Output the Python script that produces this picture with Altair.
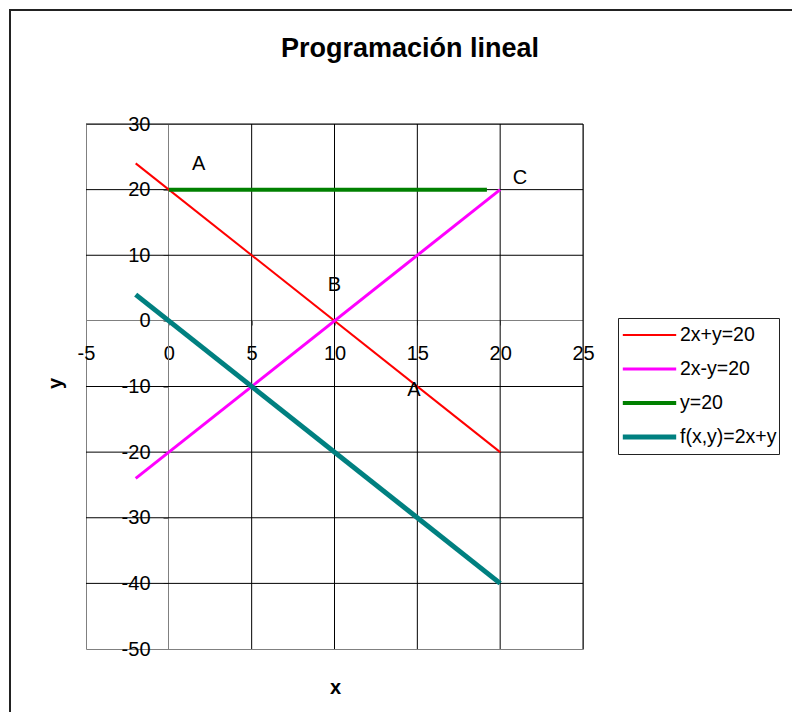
import altair as alt
import pandas as pd

# ---- data ----
series_names = ["2x+y=20", "2x-y=20", "y=20", "f(x,y)=2x+y"]
series_colors = ["#FF0000", "#FF00FF", "#008000", "#008080"]
series_widths = [2, 5, 5, 5]

red_x = [-2, 20]
red_y = [24, -20]
mag_x = [-2, 20]
mag_y = [-24, 20]
green_x = [0, 19.2]
green_y = [20, 20]
teal_x = [-2, 20]
teal_y = [4, -40]

label_text = ["A", "C", "B", "A"]
label_x = [1.8, 21.2, 10.0, 14.8]
label_y = [23.9, 21.8, 5.5, -10.5]

chart_title = ["Programación lineal"]

x_ticks = [-5, 0, 5, 10, 15, 20, 25]
y_ticks = [30, 20, 10, 0, -10, -20, -30, -40, -50]
x_grid = [5, 10, 15, 20, 25]
y_grid = [30, 20, 10, -10, -20, -30, -40]

rows = []
for name, xs_, ys_ in zip(series_names, [red_x, mag_x, green_x, teal_x],
                          [red_y, mag_y, green_y, teal_y]):
    for xv, yv in zip(xs_, ys_):
        rows.append({"series": name, "x": xv, "y": yv})
lines_df = pd.DataFrame(rows)
labels_df = pd.DataFrame({"t": label_text, "x": label_x, "y": label_y})
xgrid_df = pd.DataFrame({"x": x_grid})
ygrid_df = pd.DataFrame({"y": y_grid})
frame_df = pd.DataFrame({"k": [0]})
title_df = pd.DataFrame({"t": chart_title})

FONT = "Liberation Sans"
FS = 20
xs = alt.Scale(domain=[-5, 25], nice=False, zero=False)
ys = alt.Scale(domain=[-50, 30], nice=False, zero=False)

x_axis = alt.Axis(values=x_ticks, labelExpr="'' + datum.value", grid=False,
                  offset=-329, domainColor="#808080", tickColor="#808080",
                  tickSize=5, labelPadding=18, labelFontSize=FS, labelFont=FONT,
                  labelColor="black", labelFlush=False, labelOverlap=False,
                  title="x", titleFont=FONT, titleFontSize=FS, titleFontWeight="bold",
                  titleColor="black", titleX=249, titleY=367, titleBaseline="middle",
                  titleAlign="center")
y_axis = alt.Axis(values=y_ticks, labelExpr="'' + datum.value", grid=False,
                  offset=-82, domainColor="#808080", tickColor="#808080",
                  tickSize=5, labelPadding=13, labelFontSize=FS, labelFont=FONT,
                  labelColor="black", labelFlush=False, labelOverlap=False,
                  title="y", titleFont=FONT, titleFontSize=FS, titleFontWeight="bold",
                  titleColor="black", titleX=-113, titleY=259, titleBaseline="middle",
                  titleAlign="center", titleAngle=270)

frame = alt.Chart(frame_df).mark_rect(fillOpacity=0, stroke="#222222", strokeWidth=2).encode(
    x=alt.value(-76), x2=alt.value(730), y=alt.value(-114), y2=alt.value(610)
)

title = alt.Chart(title_df).mark_text(font=FONT, fontSize=27, fontWeight="bold",
                                      color="black", align="center",
                                      baseline="alphabetic").encode(
    text="t:N", x=alt.value(324), y=alt.value(-67)
)

vgrid = alt.Chart(xgrid_df).mark_rule(color="black", strokeWidth=1).encode(
    x=alt.X("x:Q", scale=xs, axis=x_axis)
)
hgrid = alt.Chart(ygrid_df).mark_rule(color="black", strokeWidth=1).encode(
    y=alt.Y("y:Q", scale=ys, axis=y_axis)
)

legend = alt.Legend(title=None, orient="none", legendX=532, legendY=194,
                    symbolType="stroke", symbolSize=2850, labelFontSize=19.5,
                    labelFont=FONT, labelColor="black", strokeColor="#222222",
                    fillColor="white", padding=2, rowPadding=4, labelOffset=1,
                    clipHeight=30)

lines = alt.Chart(lines_df).mark_line().encode(
    x=alt.X("x:Q", scale=xs, axis=x_axis),
    y=alt.Y("y:Q", scale=ys, axis=y_axis),
    color=alt.Color("series:N", scale=alt.Scale(domain=series_names, range=series_colors),
                    legend=legend),
    strokeWidth=alt.StrokeWidth("series:N",
                                scale=alt.Scale(domain=series_names, range=series_widths),
                                legend=legend),
)

texts = alt.Chart(labels_df).mark_text(fontSize=FS, font=FONT, color="black").encode(
    x=alt.X("x:Q", scale=xs, axis=x_axis),
    y=alt.Y("y:Q", scale=ys, axis=y_axis),
    text="t:N",
)

chart = alt.layer(frame, title, vgrid, hgrid, lines, texts).properties(
    width=497, height=525,
    padding={"left": 78, "top": 116, "right": 209, "bottom": 63},
    autosize=alt.AutoSizeParams(type="none"),
    background="white",
).configure_view(stroke="#808080")

chart.save("out.html", embed_options={"renderer": "svg", "actions": False})
